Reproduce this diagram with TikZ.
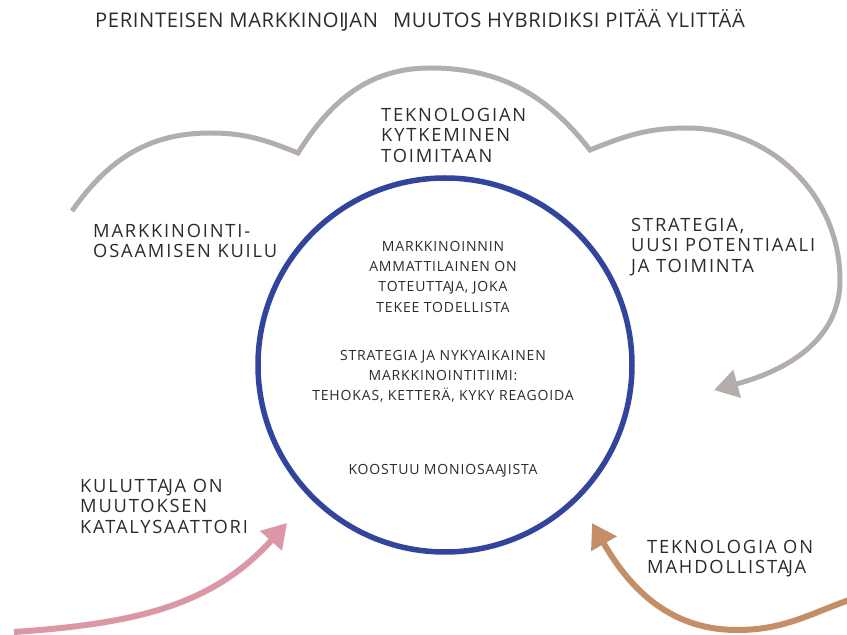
\documentclass[tikz,border=0pt]{standalone}
\usepackage{fontspec}
\setmainfont{Open Sans}
\newfontfamily\spaced[LetterSpace=6]{Open Sans}
\newfontfamily\wide[LetterSpace=10]{Open Sans}
\newfontfamily\headfont[LetterSpace=3]{Open Sans}
\newcommand{\tightJ}{\kern-.07em J}
\usetikzlibrary{positioning,arrows.meta}
\definecolor{ink}{HTML}{2B2B2B}
\definecolor{cloudgray}{HTML}{B3AEAB}
\definecolor{coreblue}{HTML}{33449C}
\definecolor{pinkish}{HTML}{DB97A6}
\definecolor{tan}{HTML}{C48E66}
\begin{document}
\begin{tikzpicture}[x=1pt,y=1pt]
      \useasboundingbox (0,0) rectangle (847,635);
      \tikzstyle{every node} = [inner sep=0, text=ink]
      \tikzstyle{tag} = [align=left, anchor=north west, font=\wide\fontsize{18.3}{20.5}\selectfont]
      \tikzstyle{inside} = [align=center, anchor=north, font=\spaced\fontsize{14}{20.3}\selectfont]
      \tikzstyle{bigtip} = [-{Triangle[length=24pt, width=28pt]}]

      \node[anchor=base, font=\headfont\fontsize{20.2}{22}\selectfont](title) at (420,607){PERINTEISEN MARKKINOI\tightJ AN\hspace{15pt}MUUTOS HYBRIDIKSI PITÄÄ YLITTÄÄ};

      \node[circle, draw=coreblue, line width=5.5pt, minimum size=374pt](core) at (445,270){};
      \node[inside](ammatti) at (443,394){MARKKINOINNIN\\AMMATTILAINEN ON\\TOTEUTTA\tightJ A, JOKA\\TEKEE TODELLISTA};
      \node[inside](tiimi) at (443,285){STRATEGIA JA NYKYAIKAINEN\\MARKKINOINTITIIMI:\\TEHOKAS, KETTERÄ, KYKY REAGOIDA};
      \node[inside](moni) at (443,171){KOOSTUU MONIOSAA\tightJ ISTA};

      \node[tag](kytkeminen) at (381,527){TEKNOLOGIAN\\KYTKEMINEN\\TOIMITAAN};
      \node[tag](kuilu) at (93,411){MARKKINOINTI-\\OSAAMISEN KUILU};
      \node[tag](strategia) at (631,417){STRATEGIA,\\UUSI POTENTIAALI\\JA TOIMINTA};
      \node[tag](kuluttaja) at (80,156){KULUTTA\tightJ A ON\\MUUTOKSEN\\KATALYSAATTORI};
      \node[tag](teknologia) at (647,95){TEKNOLOGIA ON\\MAHDOLLISTA\tightJ A};

      \coordinate (cloudstart) at (72,424);
      \coordinate (cloudtip) at (714,245);
      \coordinate (pinkstart) at (14,3);
      \coordinate (pinktip) at (287,112);
      \coordinate (tanstart) at (849,35);
      \coordinate (tantip) at (592,112);

      % cloud around the gap
      \draw[cloudgray, line width=5pt, bigtip] (cloudstart) to[out=55,in=180] (210,502) to[out=0,in=158] (298,482)
            to[out=58,in=180] (430,567) to[out=0,in=128] (590,485)
            to[out=22,in=180] (687,507) to[out=0,in=90] (840,355) to[out=-90,in=15] (cloudtip);
      \draw[pinkish, line width=6pt, bigtip] (pinkstart) to[out=4,in=-132] (pinktip);
      \draw[tan, line width=6pt, bigtip] (tanstart) to[out=200,in=0] (737,5) to[out=180,in=-60] (tantip);
\end{tikzpicture}
\end{document}
